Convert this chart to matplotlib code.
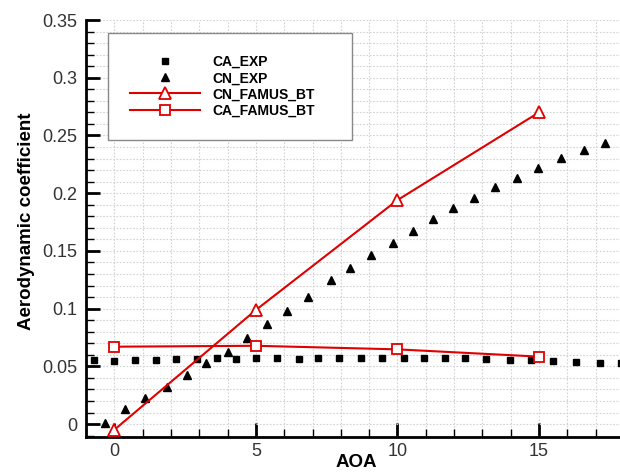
import matplotlib
matplotlib.use("Agg")
import matplotlib.pyplot as plt
from matplotlib.ticker import MultipleLocator, FuncFormatter

# Experimental axial-force coefficient
ca_exp_aoa = [-0.73, 0.0, 0.73, 1.48, 2.19, 2.92, 3.63, 4.31, 5.0, 5.73, 6.52,
              7.21, 7.94, 8.72, 9.46, 10.22, 10.93, 11.67, 12.4, 13.14, 13.97,
              14.72, 15.49, 16.29, 17.14, 17.9]
ca_exp = [0.0555, 0.0549, 0.0555, 0.0555, 0.0563, 0.0563, 0.0569, 0.0563, 0.0569,
          0.0569, 0.0563, 0.0569, 0.0569, 0.0569, 0.0569, 0.0569, 0.0569, 0.0569,
          0.0569, 0.0563, 0.0555, 0.0555, 0.0546, 0.0535, 0.0532, 0.0526]

# Experimental normal-force coefficient
cn_exp_aoa = [-0.32, 0.39, 1.09, 1.87, 2.56, 3.23, 4.0, 4.68, 5.40, 6.09, 6.84,
              7.65, 8.33, 9.08, 9.83, 10.55, 11.25, 11.97, 12.72, 13.46, 14.23,
              14.98, 15.76, 16.59, 17.32]
cn_exp = [0.0011, 0.0127, 0.0228, 0.0323, 0.0425, 0.0532, 0.0627, 0.0743, 0.0865,
          0.0979, 0.1104, 0.1248, 0.1349, 0.1464, 0.1566, 0.1672, 0.1776, 0.1874,
          0.1961, 0.2051, 0.2132, 0.2222, 0.2302, 0.2374, 0.2432]

# FAMUS_BT predictions
famus_aoa = [0, 5, 10, 15]
cn_famus = [-0.005, 0.0988, 0.194, 0.270]
ca_famus = [0.067, 0.0678, 0.0647, 0.0584]

x_major = [0, 5, 10, 15]
y_major = [0, 0.05, 0.1, 0.15, 0.2, 0.25, 0.3, 0.35]

plt.rcParams["font.family"] = ["Liberation Sans", "DejaVu Sans"]

fig = plt.figure(figsize=(6.2, 4.72), dpi=100)
ax = fig.add_axes([0.1387, 0.0742, 0.8613, 0.8834])

red = "#e00000"
ax.plot(ca_exp_aoa, ca_exp, ls="none", marker="s", ms=5, color="black",
        label="CA_EXP", zorder=3)
ax.plot(cn_exp_aoa, cn_exp, ls="none", marker="^", ms=6, color="black",
        label="CN_EXP", zorder=3)
ax.plot(famus_aoa, cn_famus, color=red, lw=1.5, marker="^", ms=8,
        mfc="white", mec=red, mew=1.3, label="CN_FAMUS_BT", zorder=4)
ax.plot(famus_aoa, ca_famus, color=red, lw=1.5, marker="s", ms=7,
        mfc="white", mec=red, mew=1.3, label="CA_FAMUS_BT", zorder=4)

ax.set_xlim(-1, 17.86)
ax.set_ylim(-0.0112, 0.35)

ax.set_xticks(x_major)
ax.set_yticks(y_major)
ax.xaxis.set_minor_locator(MultipleLocator(1))
ax.yaxis.set_minor_locator(MultipleLocator(0.01))
ax.yaxis.set_major_formatter(FuncFormatter(lambda v, p: f"{v:g}"))

ax.grid(which="both", color="#d2d2d2", ls=(0, (1.5, 1.5)), lw=0.8)
ax.set_axisbelow(True)

for side in ("top", "right"):
    ax.spines[side].set_visible(False)
for side in ("left", "bottom"):
    ax.spines[side].set_linewidth(2)

ax.tick_params(which="major", direction="in", length=10, width=2,
               labelsize=13, labelcolor="#333333", pad=6)
ax.tick_params(which="minor", direction="in", length=6, width=1)
ax.tick_params(axis="x", which="major", pad=4)

ax.set_xlabel("AOA", fontsize=13.5, fontweight="bold")
ax.xaxis.set_label_coords(0.506, -0.040)
ax.set_ylabel("Aerodynamic coefficient", fontsize=13.5, fontweight="bold")
ax.yaxis.set_label_coords(-0.096, 0.518)

leg = ax.legend(loc="upper left", bbox_to_anchor=(0.041, 0.969, 0.457, 0),
                mode="expand", borderaxespad=0,
                prop={"weight": "bold", "size": 10},
                handlelength=5.0, handletextpad=0.9, borderpad=1.6,
                labelspacing=0.15, fancybox=False, framealpha=1)
leg.get_frame().set_edgecolor("#888888")
leg.get_frame().set_linewidth(1)

fig.savefig("out.png", dpi=100)
